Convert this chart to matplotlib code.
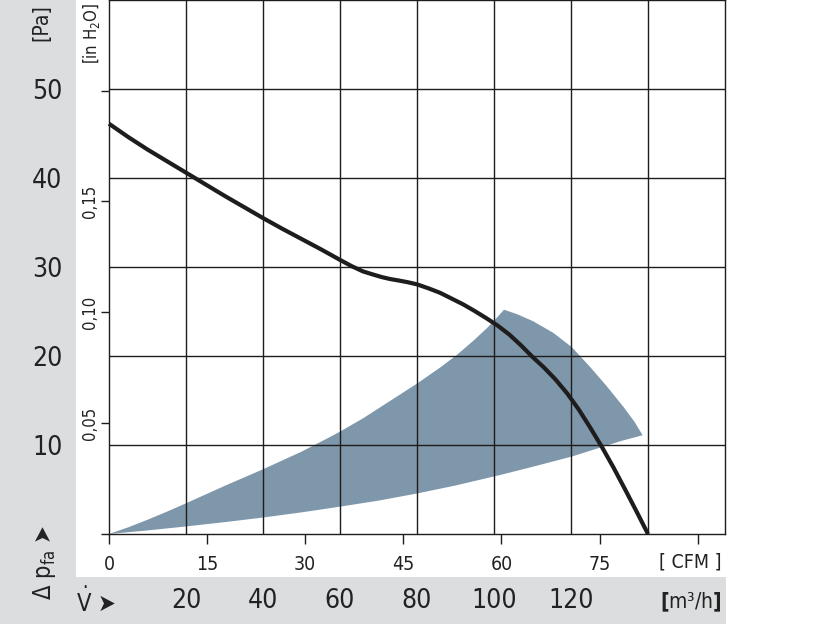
import matplotlib
matplotlib.use('Agg')
import matplotlib.pyplot as plt
import matplotlib.transforms as mtrans
from matplotlib.patches import Rectangle
import numpy as np

FONT = ['Liberation Sans Narrow', 'DejaVu Sans']
plt.rcParams['font.family'] = FONT
plt.rcParams['font.stretch'] = 'condensed'

# ---------------- data ----------------
# fan curve: flow [m3/h] vs static pressure [Pa]
curve_flow = [0, 5, 10, 15, 20, 25, 30, 35, 40, 45, 50, 55, 60, 63, 66, 69, 71, 73,
              75, 77.5, 80, 83, 86, 89, 92, 95, 98, 101, 104, 107, 110, 113, 116,
              119, 122, 125, 128, 131, 134, 137, 140]
curve_pa = [46.1, 44.6, 43.2, 41.9, 40.6, 39.3, 38.0, 36.75, 35.5, 34.3, 33.15, 32.0,
            30.8, 30.1, 29.5, 29.1, 28.85, 28.65, 28.5, 28.3, 28.05, 27.6, 27.1,
            26.45, 25.8, 25.05, 24.25, 23.4, 22.4, 21.2, 19.9, 18.7, 17.35, 15.8, 14.0,
            11.95, 9.8, 7.5, 5.05, 2.55, 0.0]

# operating region (shaded)
region_low_flow = [0, 10, 20, 30, 40, 50, 60, 70, 80, 90, 101.6, 110.2, 120.2,
                   127.5, 133, 138.6]
region_low_pa = [0, 0.4, 0.85, 1.33, 1.85, 2.43, 3.07, 3.75, 4.55, 5.45, 6.63,
                 7.57, 8.7, 9.7, 10.45, 11.1]
region_up_flow = [0, 5, 10, 15, 20, 30, 40, 50, 57.4, 60, 66, 73, 80, 86, 90.3,
                  94.6, 98.1, 100.1, 102.6]
region_up_pa = [0, 0.75, 1.6, 2.5, 3.45, 5.4, 7.27, 9.25, 10.9, 11.5, 13.0, 14.95,
                16.9, 18.7, 20.1, 21.7, 23.1, 24.0, 25.2]
region_arc_flow = [102.6, 106, 110.2, 115.4, 120.2, 124.9, 129.3, 133.6, 136.5, 138.6]
region_arc_pa = [25.2, 24.7, 23.9, 22.6, 21.0, 18.8, 16.6, 14.3, 12.6, 11.1]

pa_ticks = [10, 20, 30, 40, 50]
pa_labels = ['10', '20', '30', '40', '50']
m3h_ticks = [20, 40, 60, 80, 100, 120]
m3h_labels = ['20', '40', '60', '80', '100', '120']
m3h_grid = [20, 40, 60, 80, 100, 120, 140]
cfm_ticks = [0, 15, 30, 45, 60, 75, 90]
cfm_labels = ['0', '15', '30', '45', '60', '75', '']
inh2o_ticks = [0, 0.05, 0.10, 0.15, 0.20]
inh2o_labels = ['', '0,05', '0,10', '0,15', '']

M3H_PER_CFM = 1.699011
PA_PER_INH2O = 249.089

# ---------------- figure ----------------
W, H = 816, 624
fig = plt.figure(figsize=(W / 100, H / 100), dpi=100)
fig.patch.set_facecolor('white')
GRAY = '#dcdddf'
INK = '#1e1c1c'
TXT = '#222222'


def fy(py):
    return 1 - py / H


def fx(px):
    return px / W


fig.patches.append(Rectangle((0, 0), fx(76), 1, transform=fig.transFigure,
                             facecolor=GRAY, edgecolor='none', zorder=-5))
fig.patches.append(Rectangle((0, 0), fx(726), fy(577), transform=fig.transFigure,
                             facecolor=GRAY, edgecolor='none', zorder=-5))

ax = fig.add_axes([fx(109), fy(534), fx(725) - fx(109), fy(0) - fy(534)])
ax.set_facecolor('white')
ax.set_xlim(0, 160)
ax.set_ylim(0, 60)
ax.set_axisbelow(False)

for s in ax.spines.values():
    s.set_color(INK)
    s.set_linewidth(1.0)

# grid
ax.set_yticks(pa_ticks, labels=pa_labels)
ax.set_xticks([c * M3H_PER_CFM for c in cfm_ticks], labels=cfm_labels)
ax.set_xticks(m3h_grid, minor=True)
ax.yaxis.grid(True, which='major', color=INK, lw=1.0)
ax.xaxis.grid(True, which='minor', color=INK, lw=1.0)
ax.xaxis.grid(False, which='major')

ax.tick_params(axis='y', which='major', length=0, pad=33.5, labelsize=19,
               labelcolor=TXT)
ax.tick_params(axis='x', which='major', length=7, width=1.0, color=INK,
               direction='out', pad=8, labelsize=14, labelcolor=TXT)
ax.tick_params(axis='x', which='minor', length=0)

# secondary inH2O axis on left
sec = ax.secondary_yaxis('left', functions=(lambda p: np.asarray(p) / PA_PER_INH2O,
                                            lambda i: np.asarray(i) * PA_PER_INH2O))
sec.set_yticks(inh2o_ticks, labels=inh2o_labels)
sec.tick_params(axis='y', length=6, width=1.0, color=INK, pad=1, labelsize=12,
                labelrotation=90, labelcolor=TXT)
for lbl in sec.get_yticklabels():
    lbl.set_va('center')
sec.spines['left'].set_visible(False)

# shaded region
poly_x = list(region_low_flow) + list(region_arc_flow[::-1]) + list(region_up_flow[::-1])
poly_y = list(region_low_pa) + list(region_arc_pa[::-1]) + list(region_up_pa[::-1])
ax.fill(poly_x, poly_y, color='#7f97ab', lw=0, zorder=1)

# fan curve
ax.plot(curve_flow, curve_pa, color=INK, lw=3.0, solid_joinstyle='round',
        solid_capstyle='butt', zorder=4, clip_on=False)

# m3/h labels in bottom strip
btrans = mtrans.blended_transform_factory(ax.transData, fig.transFigure)
for v, lab in zip(m3h_ticks, m3h_labels):
    ax.text(v, fy(601), lab, transform=btrans, ha='center', va='center',
            fontsize=19, color=TXT)

# unit labels
fig.text(fx(690), fy(562), '[ CFM ]', ha='center', va='center', fontsize=14, color=TXT)
fig.text(fx(691), fy(602), r'$\mathbf{[}$m³/h$\mathbf{]}$', ha='center', va='center',
         fontsize=15, color=TXT)
fig.text(fx(41), fy(23), '[Pa]', rotation=90, ha='center', va='center',
         fontsize=15, color=TXT)
fig.text(fx(91), fy(33), r'[in H$_\mathregular{2}$O]', rotation=90, ha='center',
         va='center', fontsize=12, color=TXT)
fig.text(fx(45), fy(562), r'Δ p$_\mathregular{fa}$ ➤', rotation=90, ha='center',
         va='center', fontsize=17, color=TXT)
fig.text(fx(76), fy(601), r'$\dot{\mathregular{V}}$ ➤', ha='left', va='center',
         fontsize=17, color=TXT)

fig.savefig('out.png', dpi=100, facecolor=fig.get_facecolor())
